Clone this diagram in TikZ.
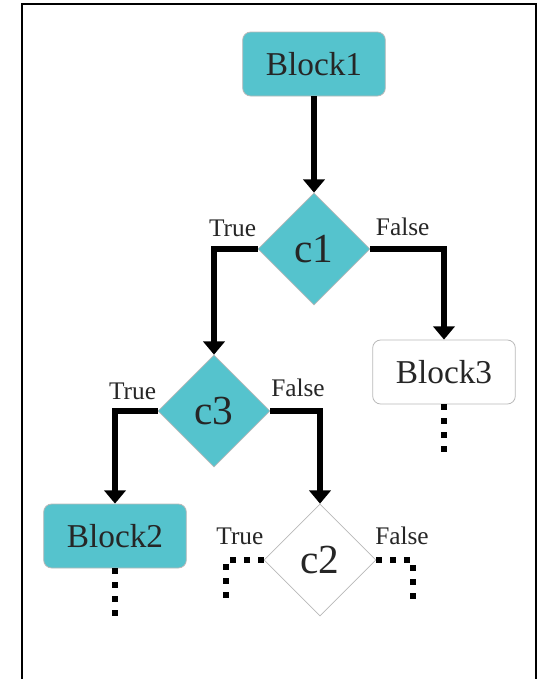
\documentclass[tikz,border=0pt]{standalone}
\usepackage{fontspec}
\setmainfont{Liberation Serif}
\usetikzlibrary{arrows.meta,shapes.geometric}

\definecolor{blockteal}{HTML}{55C3CD}

\begin{document}
\begin{tikzpicture}[x=0.75pt,y=0.75pt,
    block/.style={rectangle,rounded corners=6pt,draw=gray!55,line width=0.6pt,
        minimum width=107pt,minimum height=48pt,inner sep=0pt,
        font=\fontsize{25}{30}\selectfont,text=black!85},
    cond/.style={diamond,aspect=1,draw=gray!55,line width=0.5pt,
        minimum width=84pt,minimum height=84pt,inner sep=0pt,
        font=\fontsize{31}{36}\selectfont,text=black!85},
    branch/.style={font=\fontsize{19}{22}\selectfont,text=black!85,inner sep=0pt},
    flow/.style={line width=3.8pt,-{Triangle[width=16pt,length=10pt]}},
    stub/.style={line width=4.5pt,dash pattern=on 4.5pt off 6pt}]

    \useasboundingbox (0,0) rectangle (539,-679);
    \fill[white] (0,0) rectangle (539,-679);
    \draw[line width=1.5pt] (22,-679) |- (536,-4) -- (536,-679);  % Frame

    % Blocks and conditions
    \node[block,fill=blockteal] (b1) at (314,-64) {Block1};
    \node[cond,fill=blockteal] (c1) at (314,-249) {c1};
    \node[cond,fill=blockteal] (c3) at (214,-411) {c3};
    \node[block,fill=white] (b3) at (444,-372) {Block3};
    \node[block,fill=blockteal] (b2) at (115,-536) {Block2};
    \node[cond,fill=white] (c2) at (320,-560) {c2};

    % Branch labels
    \node[branch,anchor=base east] (c1t) at ([xshift=-1pt,yshift=9.5pt]c1.west) {True};
    \node[branch,anchor=base west] (c1f) at ([xshift=4pt,yshift=10pt]c1.east) {False};
    \node[branch,anchor=base east] (c3t) at ([xshift=-1pt,yshift=8.6pt]c3.west) {True};
    \node[branch,anchor=base west] (c3f) at ([xshift=0.5pt,yshift=11pt]c3.east) {False};
    \node[branch,anchor=base east] (c2t) at ([yshift=11.5pt]c2.west) {True};
    \node[branch,anchor=base west] (c2f) at ([xshift=-1pt,yshift=11.5pt]c2.east) {False};

    % Flow
    \draw[flow] (b1.south) -- (c1.north);
    \draw[flow] (c1.west) -| (c3.north);
    \draw[flow] (c1.east) -| (b3.north);
    \draw[flow] (c3.west) -| (b2.north);
    \draw[flow] (c3.east) -| (c2.north);

    % Continuations
    \coordinate (b3end) at ([yshift=-40.5pt]b3.south);
    \coordinate (b2end) at ([yshift=-41pt]b2.south);
    \coordinate (c2tend) at (226,-603);
    \coordinate (c2fend) at (413,-603);
    \draw[stub] (b3.south) -- (b3end);
    \draw[stub] (b2.south) -- (b2end);
    \draw[stub] (c2.west) -| (c2tend);
    \draw[stub] (c2.east) -| (c2fend);

\end{tikzpicture}
\end{document}
